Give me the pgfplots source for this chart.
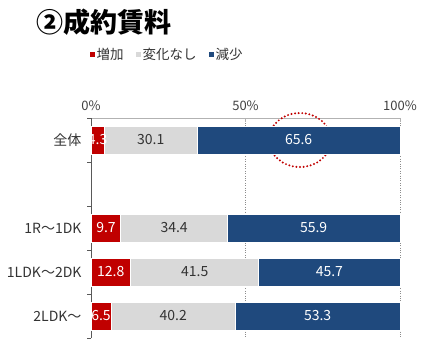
\documentclass[border=0pt]{standalone}
\usepackage{pgfplots}
\pgfplotsset{compat=1.18}
\usepackage{pgfplotstable}
\usepackage{fontspec}
\setmainfont{Noto Sans CJK JP}
\definecolor{cred}{HTML}{C00000}
\definecolor{cgray}{HTML}{D9D9D9}
\definecolor{cblue}{HTML}{1F497D}
\pgfplotstableread{
y inc same dec
0 4.3 30.1 65.6
2 9.7 34.4 55.9
3 12.8 41.5 45.7
4 6.5 40.2 53.3
}\datatab
\begin{document}
\begin{tikzpicture}
\path[use as bounding box] (0pt,0pt) rectangle (427pt,353pt);
\node[anchor=west, font=\fontsize{27}{30}\selectfont\bfseries] at (33pt,331pt) {②成約賃料};
\begin{axis}[
  at={(91pt,15pt)}, anchor=south west,
  scale only axis, width=309pt, height=220pt,
  clip=false,
  /pgf/number format/assume math mode=true,
  xbar stacked, bar width=28pt,
  xmin=0, xmax=100, ymin=-0.5, ymax=4.5, y dir=reverse,
  axis x line*=top, axis y line*=left,
  x axis line style={color=black!30, line width=0.8pt},
  y axis line style={color=black!65, line width=0.8pt},
  xtick={0,50,100}, xticklabels={0\%,50\%,100\%},
  xticklabel style={font=\fontsize{13}{15}\selectfont, text=black!75},
  xmajorgrids, major grid style={color=black!45, dotted, line width=0.8pt},
  major tick length=4pt, tick align=outside,
  xtick style={color=black!30, yshift=-4pt, line width=0.8pt},
  ytick style={color=black!65, line width=0.8pt},
  ytick={-0.5,0.5,1.5,2.5,3.5,4.5}, yticklabels={,,,,,},
  extra y ticks={0,2,3,4},
  extra y tick labels={全体,1R～1DK,1LDK～2DK,2LDK～},
  extra y tick style={major tick length=0pt},
  yticklabel style={font=\fontsize{14}{16}\selectfont, text=black!80, xshift=-6pt},
  legend style={at={(-0.015,1.29)}, anchor=west, draw=none, fill=none,
    font=\fontsize{13.5}{15}\selectfont, text=black!80,
    /tikz/every even column/.append style={column sep=10pt}},
  legend columns=3,
  legend image code/.code={\fill[#1,draw=none] (0pt,-2.5pt) rectangle (5pt,2.5pt);},
  point meta=explicit,
  nodes near coords={\pgfmathprintnumber[fixed,precision=1,fixed zerofill]{\pgfplotspointmeta}},
]
\addplot[fill=cred, draw=white, line width=1pt,
  every node near coord/.style={font=\fontsize{14}{16}\selectfont, text=white, anchor=center}]
  table[x=inc, y=y, meta=inc] {\datatab};
\addplot[fill=cgray, draw=white, line width=1pt,
  every node near coord/.style={font=\fontsize{14}{16}\selectfont, text=black!80, anchor=center}]
  table[x=same, y=y, meta=same] {\datatab};
\addplot[fill=cblue, draw=white, line width=1pt,
  every node near coord/.style={font=\fontsize{14}{16}\selectfont, text=white, anchor=center}]
  table[x=dec, y=y, meta=dec] {\datatab};
\legend{増加,変化なし,減少}
\draw[cred, line width=2.2pt, line cap=round, dash pattern=on 0pt off 3.6pt]
  (axis cs:67.6,0) ellipse [x radius=31pt, y radius=27pt];
\end{axis}
\end{tikzpicture}
\end{document}
